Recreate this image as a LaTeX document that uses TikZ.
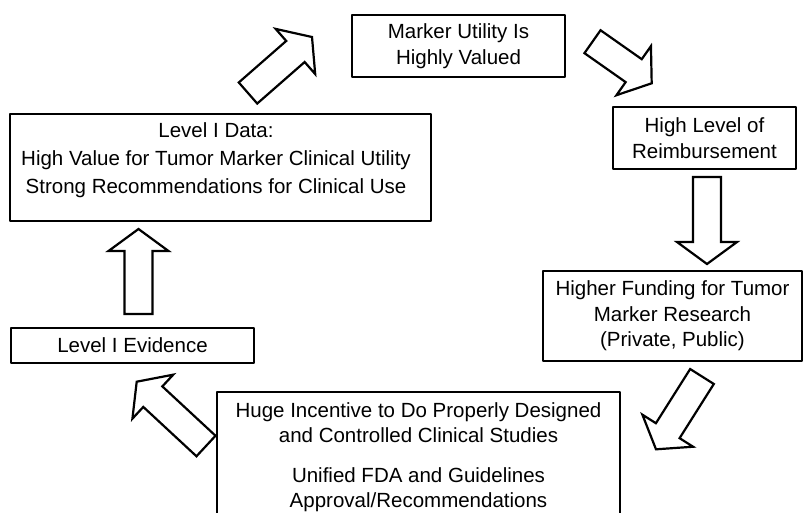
\documentclass[tikz,border=0pt]{standalone}
\usepackage{fontspec}
\setmainfont{Liberation Sans}
\usetikzlibrary{calc}
\tikzset{
	box/.style={draw,line width=2.6pt,rectangle,inner sep=0pt,align=center},
	boxtext/.style={inner sep=0pt,align=center},
	blockarrow/.style={draw,line width=2.2pt,line join=miter,fill=white}
}
\newcommand{\bigarrow}[2]{%
	\path ($(#2)!22pt!(#1)$) coordinate (#1-h);
	\draw[blockarrow] ($(#1)!14pt!90:(#2)$) -- ($(#1-h)!14pt!90:(#2)$) -- ($(#1-h)!30pt!90:(#2)$) -- (#2)
		-- ($(#1-h)!30pt!-90:(#2)$) -- ($(#1-h)!14pt!-90:(#2)$) -- ($(#1)!14pt!-90:(#2)$) -- cycle;}
\begin{document}
\begin{tikzpicture}[x=1pt,y=-1pt,font=\fontsize{20.5}{25.5}\selectfont,line join=round,line cap=round]
	\useasboundingbox (0,0) rectangle (804,512);
	\clip (0,0) rectangle (804,512);
	\node[box,minimum width=213,minimum height=62] (util) at (458.5,46) {Marker Utility Is\\Highly Valued};
	\node[box,minimum width=183,minimum height=62] (reimb) at (704.5,138) {High Level of\\Reimbursement};
	\node[box,minimum width=259,minimum height=90] (fund) at (672.5,316) {Higher Funding for Tumor\\Marker Research\\(Private, Public)};
	\node[box,minimum width=421,minimum height=107] (data) at (220.5,167.5) {};
	\node[boxtext,anchor=north] (datatext) at (216,122) {Level I Data:\\[2.5pt]High Value for Tumor Marker Clinical Utility\\[2.5pt]Strong Recommendations for Clinical Use};
	\node[box,minimum width=243,minimum height=35] (evid) at (132.5,345.5) {Level I Evidence};
	\node[box,minimum width=403,minimum height=148] (study) at (418.5,466) {};
	\node[boxtext,anchor=north] (studytext) at (418.5,402) {Huge Incentive to Do Properly Designed\\and Controlled Clinical Studies\\[14pt]Unified FDA and Guidelines\\Approval/Recommendations};
	\path
		(248,93)coordinate(t1) (312,37)coordinate(p1)
		(592.5,41.7)coordinate(t2) (651.7,83.3)coordinate(p2)
		(707,177)coordinate(t3) (707,264)coordinate(p3)
		(702,376.5)coordinate(t4) (656,449.3)coordinate(p4)
		(206,446)coordinate(t5) (136.7,381.7)coordinate(p5)
		(138.5,314)coordinate(t6) (138.5,229)coordinate(p6)
		;
	\foreach \i in {1,...,6} \bigarrow{t\i}{p\i};
\end{tikzpicture}
\end{document}
